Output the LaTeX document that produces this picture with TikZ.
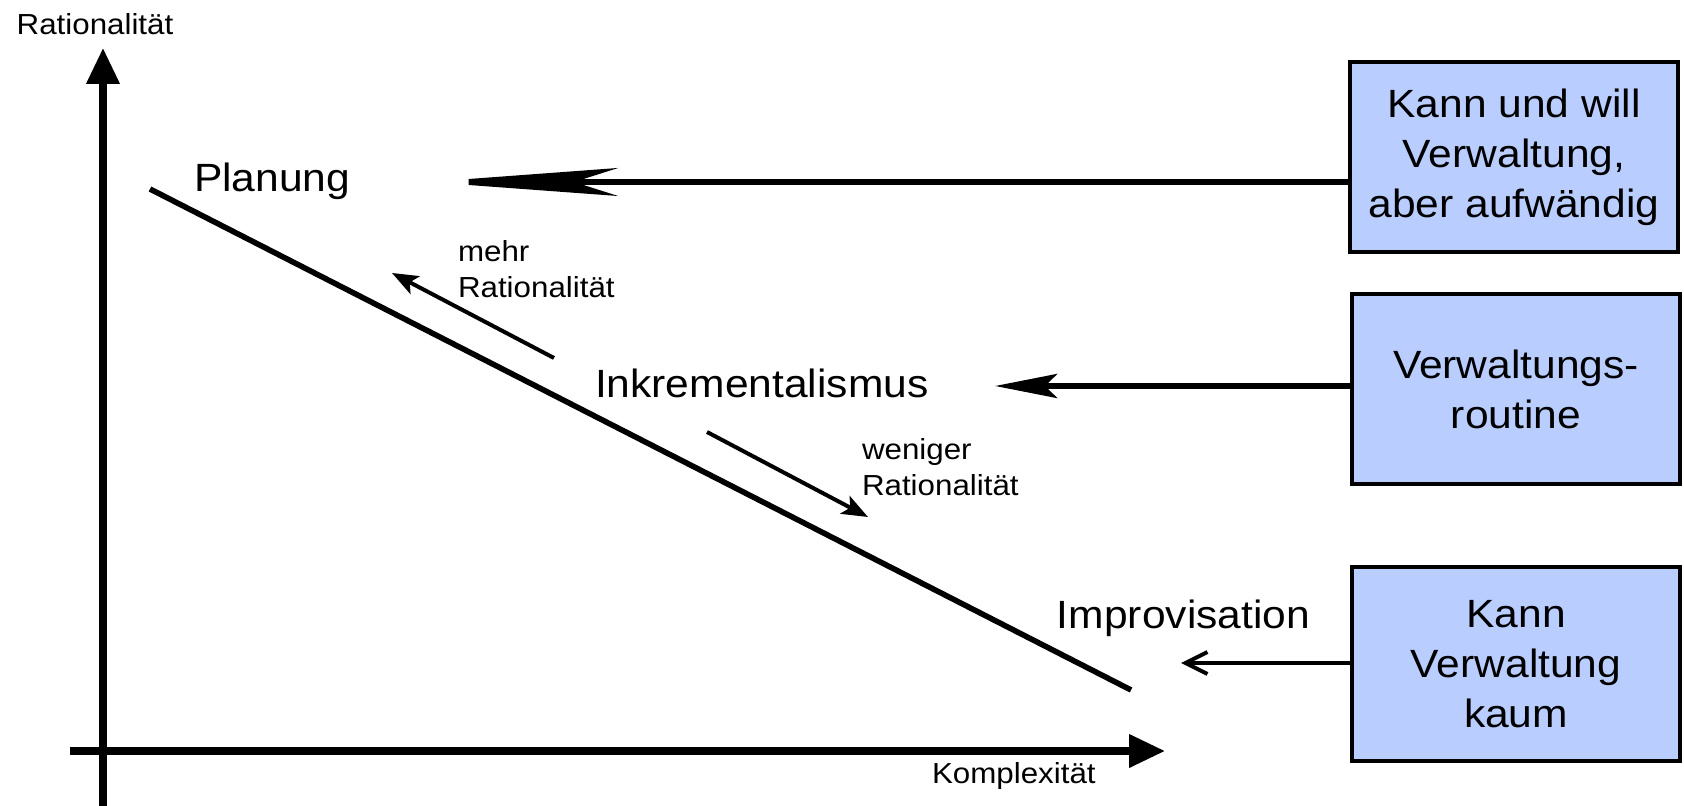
\documentclass[tikz,border=0pt]{standalone}
\usepackage{fontspec}
\setmainfont[FakeStretch=1.08]{Liberation Sans}
\usetikzlibrary{arrows.meta}
\definecolor{boxblue}{RGB}{185,206,255}

\begin{document}
\begin{tikzpicture}[x=0.5pt,y=-0.5pt]
    \tikzstyle{every node}=[inner sep=0,outer sep=0]
    \tikzstyle{big}=[font=\fontsize{19.7}{25}\selectfont]
    \tikzstyle{small}=[font=\fontsize{14.5}{18}\selectfont,align=left]
    \tikzstyle{choice}=[big,draw,line width=2pt,fill=boxblue,align=center,minimum width=164pt,minimum height=95pt]
    \tikzstyle{axis}=[line width=3.6pt,-{Triangle[length=18pt,width=16pt]}]
    \tikzstyle{hint}=[line width=2pt,-{Stealth[length=13pt,width=10pt,inset=3pt]}]
    \useasboundingbox (0,0) rectangle (1684,806);
    {
        % axes
        \coordinate (ybottom) at (103,806);
        \coordinate (ytip) at (103,48);
        \coordinate (xstart) at (70,751);
        \coordinate (xtip) at (1165,751);
        \draw[axis] (ybottom) -- (ytip);
        \draw[axis] (xstart) -- (xtip);
        \node[small,anchor=base] (labely) at (95,35) {Rationalität};
        \node[small,anchor=base west] (labelx) at (932,783) {Komplexität};

        % trend line
        \coordinate (trendtop) at (150,189);
        \coordinate (trendbottom) at (1131,690);
        \draw[line width=2.8pt] (trendtop) -- (trendbottom);

        \node[big,anchor=base west] (planung) at (194,192) {Planung};
        \node[big,anchor=base west] (inkr) at (595,398) {Inkrementalismus};
        \node[big,anchor=base east] (impro) at (1310,628) {Improvisation};

        \coordinate (mehrtail) at (554,358);
        \coordinate (mehrtip) at (392,273);
        \coordinate (wenigtail) at (707,432);
        \coordinate (wenigtip) at (868,517);
        \draw[hint] (mehrtail) -- (mehrtip);
        \draw[hint] (wenigtail) -- (wenigtip);
        \node[small,anchor=west] (mehr) at (458,269) {mehr\\Rationalität};
        \node[small,anchor=west] (weniger) at (862,467) {weniger\\Rationalität};

        % boxes
        \node[choice] (kannwill) at (1514,157) {Kann und will\\Verwaltung,\\aber aufwändig};
        \node[choice] (routine) at (1516,389) {Verwaltungs-\\routine};
        \node[choice,minimum height=97pt] (kaum) at (1516,664) {Kann\\Verwaltung\\kaum};

        \coordinate (planhead) at (428,182);
        \coordinate (inkrhead) at (995,386);
        \coordinate (improhead) at (1181,663);
        \draw[line width=3pt,-{Stealth[length=95pt,width=14pt,inset=22pt]}]
            (kannwill.west |- planhead) -- (planhead);
        \draw[line width=2.8pt,-{Stealth[length=31pt,width=12pt,inset=6pt]}]
            (routine.west |- inkrhead) -- (inkrhead);
        \draw[line width=2pt,-{Straight Barb[length=11pt,width=11pt]}]
            (kaum.west |- improhead) -- (improhead);
    }
\end{tikzpicture}
\end{document}
